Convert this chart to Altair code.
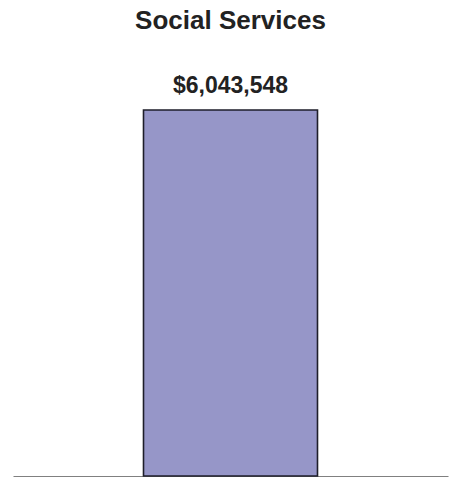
import altair as alt
import pandas as pd

categories = ["Social Services"]
values = [6043548]
labels = ["$6,043,548"]

df = pd.DataFrame({"category": categories, "value": values, "label": labels})

base = alt.Chart(df).encode(
    x=alt.X("category:N",
            scale=alt.Scale(paddingInner=0, paddingOuter=0.75),
            axis=alt.Axis(title=None, labels=False, ticks=False, domain=True,
                          domainColor="#808080", domainWidth=1.2, grid=False)),
    y=alt.Y("value:Q", scale=alt.Scale(domain=[0, 7000000], nice=False),
            axis=None),
)

bars = base.mark_bar(color="#9696C8", stroke="#1e1e2a", strokeWidth=1.6)
text = base.mark_text(dy=-17, baseline="alphabetic", fontSize=23, fontWeight="bold",
                      font="Liberation Sans", color="#222222").encode(text="label:N")

chart = (bars + text).properties(
    width=435,
    height=424,
    title=alt.Title("Social Services", fontSize=26, fontWeight="bold",
                    font="Liberation Sans", color="#222222", anchor="middle",
                    offset=18),
    autosize=alt.AutoSizeParams(type="none"),
    padding={"left": 13, "top": 52, "right": 2, "bottom": 5},
).configure_view(stroke=None)

chart.save("out.html", embed_options={"renderer": "svg", "actions": False})
